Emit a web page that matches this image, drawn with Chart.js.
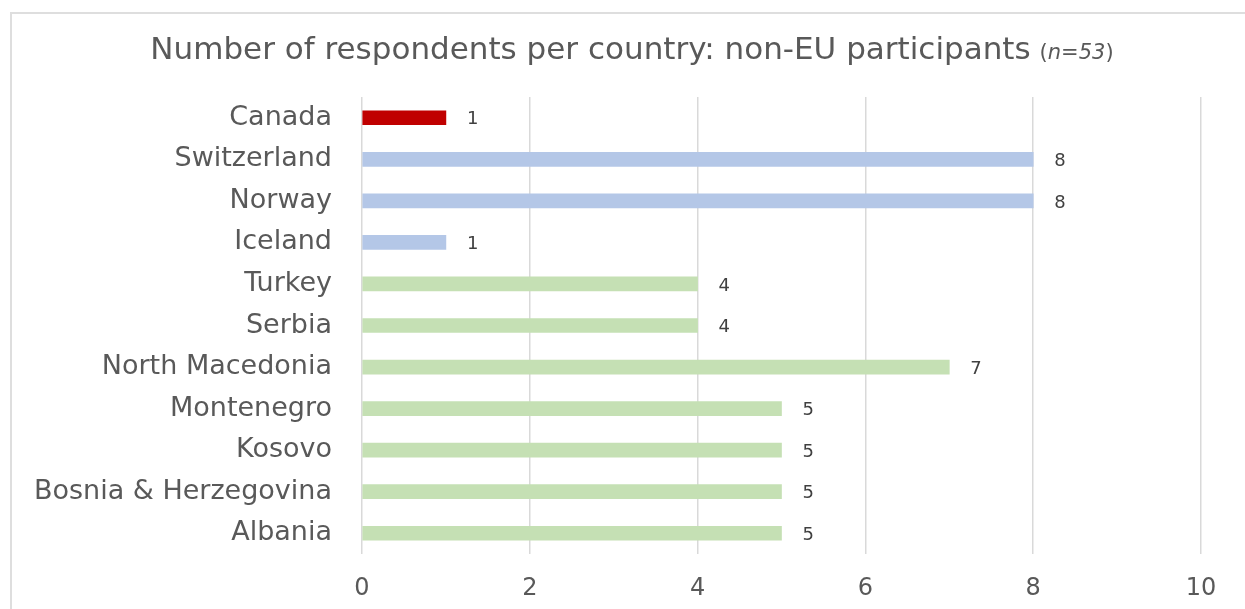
<!DOCTYPE html>
<html>
<head>
<meta charset="utf-8">
<script src="https://cdn.jsdelivr.net/npm/chart.js@4.4.1/dist/chart.umd.min.js"></script>
<style>
  html, body { margin: 0; padding: 0; background: #fff; }
  #wrap { position: relative; width: 1245px; height: 609px; }
</style>
</head>
<body>
<div id="wrap"><canvas id="chart"></canvas></div>
<script>
'use strict';

// dados (de cima para baixo)
const countries = ['Canada', 'Switzerland', 'Norway', 'Iceland', 'Turkey', 'Serbia',
    'North Macedonia', 'Montenegro', 'Kosovo', 'Bosnia & Herzegovina', 'Albania'];
const respondents = [1, 8, 8, 1, 4, 4, 7, 5, 5, 5, 5];
const groups = ['other', 'efta', 'efta', 'efta', 'candidate', 'candidate',
    'candidate', 'candidate', 'candidate', 'candidate', 'candidate'];
const xTicks = [0, 2, 4, 6, 8, 10];
const titleText = 'Number of respondents per country: non-EU participants';
const titleNote = 'n=53';

const groupColors = { other: '#C00000', efta: '#B4C7E7', candidate: '#C5E0B4' };
const textColor = '#595959';
const fontFamily = '"DejaVu Sans", Verdana, sans-serif';

const frameAndTitle = {
    id: 'frameAndTitle',
    beforeDraw(chart) {
        const ctx = chart.ctx;
        ctx.save();
        ctx.strokeStyle = '#dedede';
        ctx.lineWidth = 2;
        ctx.strokeRect(11, 13, 1400, 800);
        ctx.restore();
    },
    afterDraw(chart) {
        const ctx = chart.ctx;
        ctx.save();
        ctx.fillStyle = textColor;
        ctx.textBaseline = 'middle';
        ctx.textAlign = 'left';
        const mainFont = `31px ${fontFamily}`;
        const noteFont = `italic 21px ${fontFamily}`;
        const parenFont = `21px ${fontFamily}`;
        ctx.font = mainFont; const wMain = ctx.measureText(titleText).width + 9;
        ctx.font = parenFont; const wParen = ctx.measureText('(').width;
        ctx.font = noteFont; const wNote = ctx.measureText(titleNote).width;
        let x = 632 - (wMain + wNote + 2 * wParen) / 2;
        const y = 51;
        ctx.font = mainFont; ctx.fillText(titleText, x, y); x += wMain;
        ctx.font = parenFont; ctx.fillText('(', x, y + 3); x += wParen;
        ctx.font = noteFont; ctx.fillText(titleNote, x, y + 3); x += wNote;
        ctx.font = parenFont; ctx.fillText(')', x, y + 3);
        ctx.restore();
    }
};

const valueLabels = {
    id: 'valueLabels',
    afterDatasetsDraw(chart) {
        const ctx = chart.ctx;
        const meta = chart.getDatasetMeta(0);
        ctx.save();
        ctx.font = `18px ${fontFamily}`;
        ctx.fillStyle = '#404040';
        ctx.textAlign = 'left';
        ctx.textBaseline = 'middle';
        meta.data.forEach((bar, i) => {
            ctx.fillText(String(respondents[i]), bar.x + 21, bar.y + 2);
        });
        ctx.restore();
    }
};

new Chart(document.getElementById('chart'), {
    type: 'bar',
    data: {
        labels: countries,
        datasets: [{
            data: respondents,
            backgroundColor: groups.map(g => groupColors[g]),
            barThickness: 14,
            borderWidth: 0
        }]
    },
    options: {
        indexAxis: 'y',
        responsive: true,
        maintainAspectRatio: false,
        animation: false,
        layout: { padding: { top: 97, right: 44, bottom: 0, left: 0 } },
        plugins: { legend: { display: false }, tooltip: { enabled: false }, title: { display: false } },
        scales: {
            x: {
                min: 0, max: 10,
                afterBuildTicks: (scale) => { scale.ticks = xTicks.map(v => ({ value: v })); },
                afterFit: (scale) => { scale.height = 55; },
                grid: { color: '#d9d9d9', lineWidth: 1.5, drawTicks: false },
                border: { display: false },
                ticks: { color: textColor, font: { family: fontFamily, size: 24 }, padding: 20 }
            },
            y: {
                afterFit: (scale) => { scale.width = 362; },
                grid: { display: false, drawTicks: false },
                border: { display: false },
                ticks: { color: textColor, font: { family: fontFamily, size: 27 }, padding: 30 }
            }
        }
    },
    plugins: [frameAndTitle, valueLabels]
});
</script>
</body>
</html>
